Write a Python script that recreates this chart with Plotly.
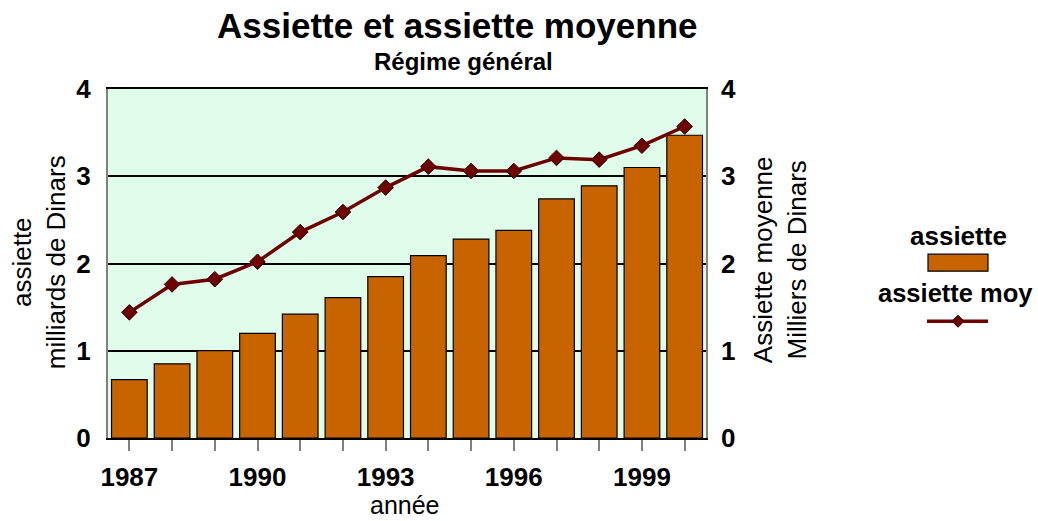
import plotly.graph_objects as go

years = list(range(1987, 2001))
assiette = [0.67, 0.85, 1.00, 1.20, 1.42, 1.61, 1.85, 2.09, 2.28, 2.38, 2.74, 2.89, 3.10, 3.47]
assiette_moy = [1.44, 1.76, 1.82, 2.02, 2.36, 2.59, 2.87, 3.11, 3.06, 3.06, 3.21, 3.19, 3.35, 3.57]
tick_labels = [str(y) if (y - 1987) % 3 == 0 else "" for y in years]

W, H = 1038, 521
L, R, T, B = 108, 706, 89, 437.7   # plot area in window pixels
FONT = "Arial, 'Liberation Sans', sans-serif"


def px(xp):
    return (xp - L) / (R - L)


def py(yp):
    return (B - yp) / (B - T)


fig = go.Figure()
fig.add_trace(go.Bar(
    x=years, y=assiette, name="assiette",
    marker=dict(color="#C86400", line=dict(color="#000000", width=1.2)),
    yaxis="y",
))
fig.add_trace(go.Scatter(
    x=years, y=assiette_moy, name="assiette moy", mode="lines+markers",
    line=dict(color="#6E0000", width=3.5),
    marker=dict(symbol="diamond", size=12, color="#6E0000", line=dict(color="#2A0000", width=1)),
    yaxis="y2",
))

fig.update_layout(
    width=W, height=H,
    margin=dict(l=L, r=W - R, t=T, b=H - B),
    paper_bgcolor="white",
    plot_bgcolor="#E0FDEB",
    showlegend=False,
    bargap=0.165,
    font=dict(family=FONT, color="#000000"),
    xaxis=dict(
        range=[1986.5, 2000.5], tickmode="array", tickvals=years, ticktext=tick_labels,
        ticks="outside", ticklen=11, tickcolor="#808080", tickwidth=1.5,
        tickfont=dict(family=FONT, size=26, color="#000000", weight="bold"),
        ticklabelstandoff=4,
        showline=True, linecolor="#000000", linewidth=2, mirror=True,
        showgrid=False, zeroline=False, fixedrange=True,
    ),
    yaxis=dict(
        range=[0, 4], tickmode="array", tickvals=[0, 1, 2, 3, 4],
        ticks="", tickfont=dict(family=FONT, size=26, color="#000000", weight="bold"),
        ticklabelstandoff=10,
        showgrid=True, gridcolor="#000000", gridwidth=1.5,
        showline=True, linecolor="#808080", linewidth=2, mirror=True,
        zeroline=False, fixedrange=True,
    ),
    yaxis2=dict(
        range=[0, 4], tickmode="array", tickvals=[0, 1, 2, 3, 4], overlaying="y", side="right",
        ticks="", tickfont=dict(family=FONT, size=26, color="#000000", weight="bold"),
        ticklabelstandoff=14,
        showgrid=False, showline=False, zeroline=False, fixedrange=True,
    ),
)

ann = [
    dict(text="<b>Assiette et assiette moyenne</b>", x=px(457), y=py(26), size=35),
    dict(text="<b>Régime général</b>", x=px(463), y=py(62), size=24),
    dict(text="assiette<br>milliards de Dinars", x=px(39), y=py(262), size=26, angle=-90),
    dict(text="Assiette moyenne<br>Milliers de Dinars", x=px(780), y=py(260), size=26, angle=-90),
    dict(text="année", x=px(405), y=py(505), size=25),
    dict(text="<b>assiette</b>", x=px(958), y=py(236), size=26),
    dict(text="<b>assiette moy</b>", x=px(955), y=py(293), size=25.5),
]
for a in ann:
    fig.add_annotation(
        text=a["text"], x=a["x"], y=a["y"], xref="paper", yref="paper",
        xanchor="center", yanchor="middle", showarrow=False,
        textangle=a.get("angle", 0),
        font=dict(family=FONT, size=a["size"], color="#000000"),
    )

# legend symbols
fig.add_shape(type="rect", xref="paper", yref="paper",
              x0=px(928), x1=px(988), y0=py(271), y1=py(254),
              fillcolor="#C86400", line=dict(color="#000000", width=1.2))
fig.add_shape(type="line", xref="paper", yref="paper",
              x0=px(927), x1=px(988), y0=py(321), y1=py(321),
              line=dict(color="#6E0000", width=3.5))
cx, cy, d = 958, 321, 6
fig.add_shape(type="path", xref="paper", yref="paper",
              path=f"M {px(cx - d)},{py(cy)} L {px(cx)},{py(cy - d)} L {px(cx + d)},{py(cy)} L {px(cx)},{py(cy + d)} Z",
              fillcolor="#6E0000", line=dict(color="#2A0000", width=1))

fig.write_html(
    "out.html",
    config={"displayModeBar": False},
    post_script="document.body.style.margin='0px';document.body.style.overflow='hidden';",
)
